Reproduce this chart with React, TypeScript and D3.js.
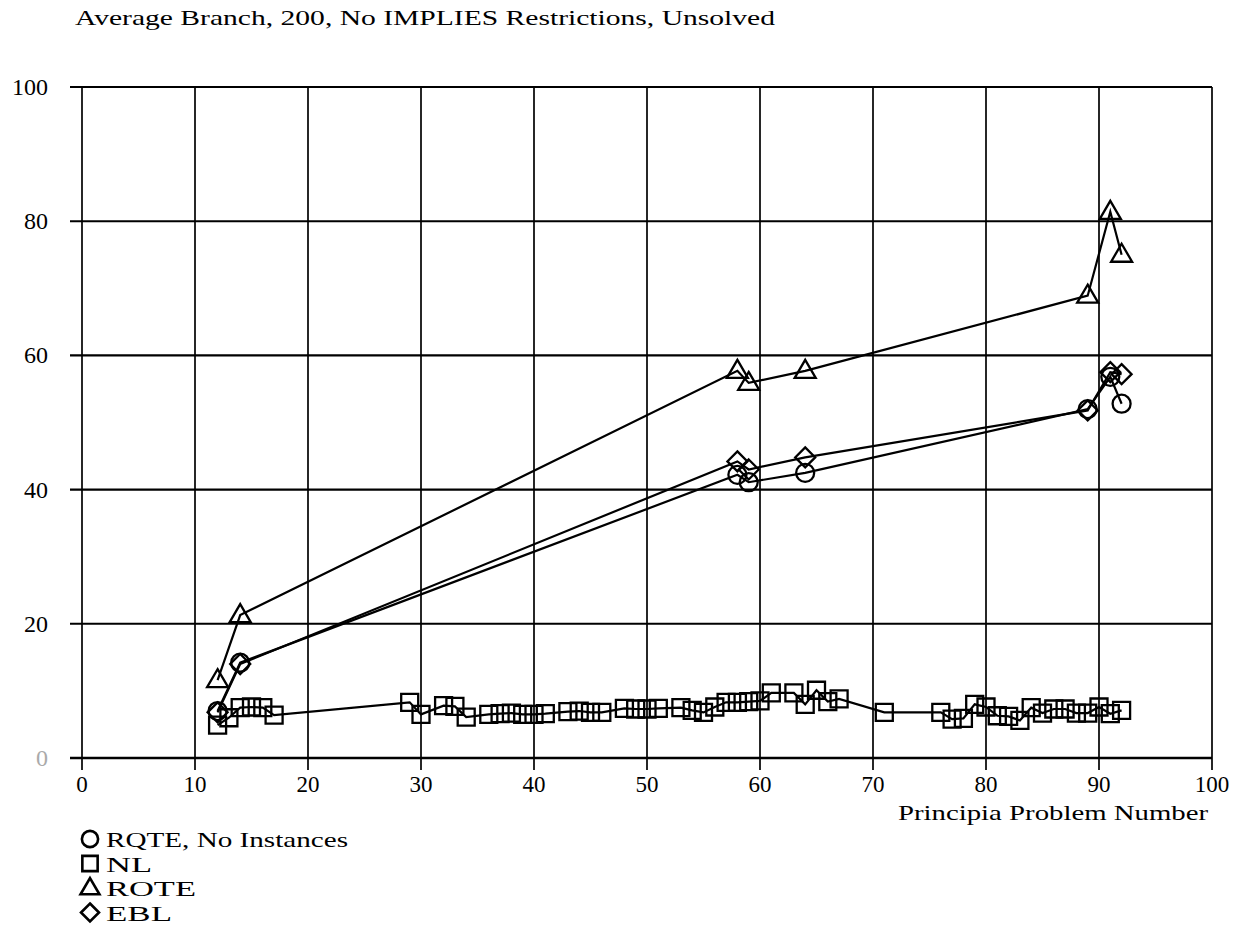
import React from "react";
import * as d3 from "d3";

const title = "Average Branch, 200, No IMPLIES Restrictions, Unsolved";
const xLabel = "Principia Problem Number";
const xTicks = [0, 10, 20, 30, 40, 50, 60, 70, 80, 90, 100];
const yTicks = [0, 20, 40, 60, 80, 100];

const roteNoInst = [
  [12, 7], [14, 14.2], [58, 42.2], [59, 41.1], [64, 42.5], [89, 52], [91, 56.8], [92, 52.8],
];
const ebl = [
  [12, 6.8], [14, 14], [58, 44.2], [59, 43], [64, 44.8], [89, 51.8], [91, 57.5], [92, 57.2],
];
const rote = [
  [12, 11.6], [14, 21.3], [58, 57.7], [59, 55.9], [64, 57.7], [89, 68.9], [91, 81.4], [92, 75],
];
const nl = [
  [12, 4.9], [13, 6.0], [14, 7.5], [15, 7.6], [16, 7.5], [17, 6.4], [29, 8.3], [30, 6.5],
  [32, 7.8], [33, 7.7], [34, 6.1], [36, 6.5], [37, 6.6], [38, 6.7], [39, 6.5], [40, 6.5],
  [41, 6.6], [43, 6.9], [44, 7.0], [45, 6.8], [46, 6.8], [48, 7.4], [49, 7.3], [50, 7.3],
  [51, 7.4], [53, 7.5], [54, 7.1], [55, 6.8], [56, 7.6], [57, 8.3], [58, 8.3], [59, 8.4],
  [60, 8.5], [61, 9.7], [63, 9.7], [64, 8.0], [65, 10.1], [66, 8.4], [67, 8.8], [71, 6.8],
  [76, 6.8], [77, 5.8], [78, 5.9], [79, 8.0], [80, 7.6], [81, 6.3], [82, 6.2], [83, 5.6],
  [84, 7.5], [85, 6.7], [86, 7.3], [87, 7.3], [88, 6.7], [89, 6.7], [90, 7.6], [91, 6.6],
  [92, 7.1],
];

const legendNames = ["RQTE, No Instances", "NL", "ROTE", "EBL"];
const legendWidths = [242, 46, 90, 66];

const font = "'Liberation Serif', 'DejaVu Serif', serif";

// marker path centred on 0,0
function marker(kind: string, s = 1) {
  if (kind === "circle") {
    const r = 9 * s;
    return `M${-r},0a${r},${r} 0 1,0 ${2 * r},0a${r},${r} 0 1,0 ${-2 * r},0Z`;
  }
  if (kind === "square") {
    const h = 8.5 * s;
    return `M${-h},${-h}H${h}V${h}H${-h}Z`;
  }
  if (kind === "triangle") {
    const w = 10.5 * s;
    return `M0,${-11 * s}L${w},${7 * s}L${-w},${7 * s}Z`;
  }
  const d = 10 * s;
  return `M0,${-d}L${d},0L0,${d}L${-d},0Z`;
}

export default function App() {
  const x = d3.scaleLinear().domain([0, 100]).range([82, 1212]);
  const y = d3.scaleLinear().domain([0, 100]).range([758, 87]);
  const line = d3
    .line<number[]>()
    .x((d) => x(d[0]))
    .y((d) => y(d[1]));

  const series = [
    { data: nl, kind: "square" },
    { data: roteNoInst, kind: "circle" },
    { data: ebl, kind: "diamond" },
    { data: rote, kind: "triangle" },
  ];
  const legendKinds = ["circle", "square", "triangle", "diamond"];

  return (
    <svg width={1239} height={951} style={{ display: "block", margin: -8 }} fontFamily={font}>
      <rect width={1239} height={951} fill="#fff" />
      <text x={75} y={25} fontSize={21} textLength={700} lengthAdjust="spacingAndGlyphs">
        {title}
      </text>

      {/* grid */}
      {xTicks.map((t) => (
        <line key={"v" + t} x1={x(t)} x2={x(t)} y1={y(100)} y2={y(0) + 12} stroke="#000" strokeWidth={1.7} />
      ))}
      {yTicks.map((t) => (
        <line key={"h" + t} x1={70} x2={x(100)} y1={y(t)} y2={y(t)} stroke="#000" strokeWidth={t === 0 ? 2.6 : 2.1} />
      ))}

      {/* tick labels */}
      {xTicks.map((t) => (
        <text key={"xt" + t} x={x(t)} y={792} fontSize={23} textAnchor="middle">
          {t}
        </text>
      ))}
      {yTicks.map((t) => (
        <text
          key={"yt" + t}
          x={48}
          y={y(t) + 8}
          fontSize={24}
          textAnchor="end"
          fill={t === 0 ? "#aaa" : "#000"}
        >
          {t}
        </text>
      ))}
      <text x={1208} y={820} fontSize={21} textAnchor="end" textLength={310} lengthAdjust="spacingAndGlyphs">
        {xLabel}
      </text>

      {/* series */}
      {series.map((s, i) => (
        <g key={i}>
          <path d={line(s.data) || ""} fill="none" stroke="#000" strokeWidth={2.2} />
          {s.data.map((d, j) => (
            <path
              key={j}
              d={marker(s.kind)}
              transform={`translate(${x(d[0])},${y(d[1])})`}
              fill="none"
              stroke="#000"
              strokeWidth={2.3}
            />
          ))}
        </g>
      ))}

      {/* legend */}
      {legendNames.map((n, i) => (
        <g key={n} transform={`translate(0,${839 + i * 24.5})`}>
          <path d={marker(legendKinds[i], 0.9)} transform="translate(90,0)" fill="none" stroke="#000" strokeWidth={2.6} />
          <text x={106} y={8} fontSize={22} textLength={legendWidths[i]} lengthAdjust="spacingAndGlyphs">
            {n}
          </text>
        </g>
      ))}
    </svg>
  );
}
